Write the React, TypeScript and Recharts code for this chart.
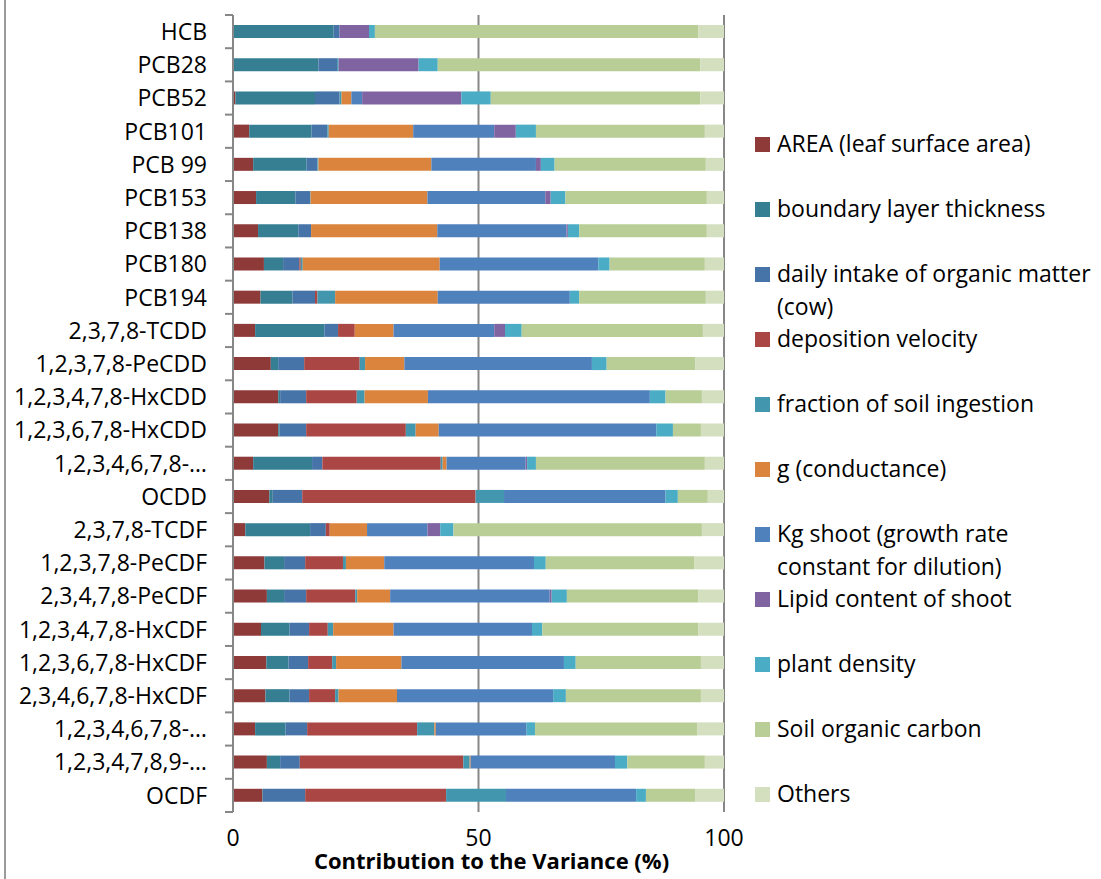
import React from 'react';
import { BarChart, Bar, XAxis, YAxis, CartesianGrid, Legend } from 'recharts';

const categories = [
  'HCB', 'PCB28', 'PCB52', 'PCB101', 'PCB 99', 'PCB153', 'PCB138', 'PCB180', 'PCB194',
  '2,3,7,8-TCDD', '1,2,3,7,8-PeCDD', '1,2,3,4,7,8-HxCDD', '1,2,3,6,7,8-HxCDD', '1,2,3,4,6,7,8-HpCDD',
  'OCDD', '2,3,7,8-TCDF', '1,2,3,7,8-PeCDF', '2,3,4,7,8-PeCDF', '1,2,3,4,7,8-HxCDF',
  '1,2,3,6,7,8-HxCDF', '2,3,4,6,7,8-HxCDF', '1,2,3,4,6,7,8-HpCDF', '1,2,3,4,7,8,9-HpCDF', 'OCDF',
];

const tickLabels = [
  'HCB', 'PCB28', 'PCB52', 'PCB101', 'PCB 99', 'PCB153', 'PCB138', 'PCB180', 'PCB194',
  '2,3,7,8-TCDD', '1,2,3,7,8-PeCDD', '1,2,3,4,7,8-HxCDD', '1,2,3,6,7,8-HxCDD', '1,2,3,4,6,7,8-…',
  'OCDD', '2,3,7,8-TCDF', '1,2,3,7,8-PeCDF', '2,3,4,7,8-PeCDF', '1,2,3,4,7,8-HxCDF',
  '1,2,3,6,7,8-HxCDF', '2,3,4,6,7,8-HxCDF', '1,2,3,4,6,7,8-…', '1,2,3,4,7,8,9-…', 'OCDF',
];

const xTicks = [0, 50, 100];

const areaLeaf = [0, 0, 0.5, 3.3, 4.1, 4.7, 5.1, 6.3, 5.6, 4.5, 7.7, 9.2, 9.2, 4.1, 7.4, 2.5, 6.4, 6.9, 5.7, 6.8, 6.6, 4.5, 6.9, 6.0];
const boundaryLayer = [20.5, 17.4, 16.2, 12.7, 10.9, 8.0, 8.2, 3.9, 6.5, 14.1, 1.5, 0.4, 0.3, 12.0, 0.7, 13.2, 4.0, 3.5, 5.8, 4.5, 4.9, 6.2, 2.7, 0.1];
const dailyIntake = [1.2, 3.8, 5.0, 3.2, 2.2, 3.0, 2.6, 3.3, 4.6, 2.8, 5.3, 5.3, 5.4, 2.1, 6.0, 3.2, 4.3, 4.5, 4.0, 4.0, 4.0, 4.4, 4.0, 8.6];
const depositionVelocity = [0, 0, 0, 0, 0, 0, 0, 0.3, 0.5, 3.4, 11.3, 10.3, 20.3, 24.1, 35.3, 0.8, 7.7, 10.0, 3.8, 4.9, 5.3, 22.4, 33.3, 28.7];
const soilIngestion = [0, 0.3, 0.4, 0.3, 0.2, 0.1, 0, 0.4, 3.6, 0, 1.1, 1.6, 2.0, 0.4, 5.8, 0, 0.6, 0.4, 1.1, 0.8, 0.7, 3.5, 1.3, 12.2];
const conductance = [0, 0, 2.0, 17.2, 23.0, 23.8, 25.7, 27.9, 20.9, 7.9, 8.0, 12.9, 4.7, 0.8, 0, 7.6, 7.8, 6.7, 12.3, 13.3, 11.9, 0.3, 0.2, 0];
const kgShoot = [0, 0, 2.2, 16.5, 21.3, 24.0, 26.3, 32.3, 26.9, 20.5, 38.2, 45.2, 44.3, 16.1, 32.9, 12.3, 30.5, 32.5, 28.2, 33.1, 31.8, 18.5, 29.4, 26.5];
const lipidContent = [6.0, 16.3, 20.2, 4.4, 1.0, 1.1, 0.3, 0, 0, 2.2, 0, 0, 0, 0.3, 0, 2.6, 0, 0.4, 0, 0, 0, 0, 0, 0];
const plantDensity = [1.2, 3.9, 6.0, 4.1, 2.8, 3.0, 2.3, 2.3, 1.9, 3.4, 3.0, 3.2, 3.4, 1.8, 2.5, 2.7, 2.4, 3.1, 2.1, 2.4, 2.6, 1.7, 2.5, 2.0];
const soilCarbon = [65.9, 53.5, 42.7, 34.4, 30.8, 28.8, 26.0, 19.4, 25.8, 36.9, 18.1, 7.4, 5.7, 34.4, 6.1, 50.6, 30.3, 26.8, 31.8, 25.5, 27.5, 33.1, 15.8, 10.0];
const others = [5.2, 4.8, 4.8, 3.9, 3.7, 3.5, 3.5, 3.9, 3.7, 4.3, 5.8, 4.5, 4.7, 3.9, 3.3, 4.5, 6.0, 5.2, 5.2, 4.7, 4.7, 5.4, 3.9, 5.9];

const seriesKeys = ['area', 'boundary', 'daily', 'deposition', 'fraction', 'g', 'kg', 'lipid', 'plant', 'soil', 'others'];
const seriesNames = [
  'AREA (leaf surface area)',
  'boundary layer thickness',
  'daily intake of organic matter\n(cow)',
  'deposition velocity',
  'fraction of soil ingestion',
  'g (conductance)',
  'Kg shoot (growth rate\nconstant for dilution)',
  'Lipid content of shoot',
  'plant density',
  'Soil organic carbon',
  'Others',
];
const seriesColors = ['#8E3A38', '#367F93', '#4674A8', '#AA4644', '#4297AF', '#DB843D', '#4F81BD', '#8064A2', '#4BACC6', '#B9CE96', '#D3DFBF'];
const seriesValues = [areaLeaf, boundaryLayer, dailyIntake, depositionVelocity, soilIngestion, conductance, kgShoot, lipidContent, plantDensity, soilCarbon, others];

const data = categories.map((name, i) => {
  const row: Record<string, string | number> = { name };
  seriesKeys.forEach((k, j) => {
    row[k] = seriesValues[j][i];
  });
  return row;
});

const FONT = '"Open Sans", Lato, sans-serif';
const AXIS_GRAY = '#878787';
const PLOT_LEFT = 233;
const PLOT_TOP = 15;
const PLOT_BOTTOM = 812;
const BAND = (PLOT_BOTTOM - PLOT_TOP) / categories.length;
const LEGEND_WIDTH = 346;

const YTick = (props: any) => {
  const { y, payload } = props;
  const idx = categories.indexOf(payload.value);
  return (
    <g>
      <line x1={PLOT_LEFT - 8} x2={PLOT_LEFT} y1={y - BAND / 2} y2={y - BAND / 2} stroke={AXIS_GRAY} strokeWidth={2} />
      {idx === categories.length - 1 && (
        <line x1={PLOT_LEFT - 8} x2={PLOT_LEFT} y1={y + BAND / 2} y2={y + BAND / 2} stroke={AXIS_GRAY} strokeWidth={2} />
      )}
      <text x={PLOT_LEFT - 26} y={y} dy="0.36em" textAnchor="end" fontSize={23} fontFamily={FONT} fill="#000">
        {tickLabels[idx]}
      </text>
    </g>
  );
};

const renderLegend = () => (
  <div style={{ position: 'relative', fontFamily: FONT, fontSize: 23, color: '#000' }}>
    {seriesNames.map((n, i) => (
      <div key={n} style={{ position: 'absolute', left: 0, top: i * 65, display: 'flex', alignItems: 'flex-start' }}>
        <span style={{ width: 15, height: 15, marginTop: 10, background: seriesColors[i], flex: 'none' }} />
        <span style={{ marginLeft: 7, lineHeight: '33px', whiteSpace: 'pre-line' }}>{n}</span>
      </div>
    ))}
  </div>
);

export default function App() {
  return (
    <div style={{ position: 'absolute', left: 0, top: 0, width: 1101, height: 879, background: '#fff', overflow: 'hidden' }}>
      <div style={{ position: 'absolute', left: 4, top: 0, width: 2, height: 879, background: '#9a9a9a' }} />
      <BarChart
        width={1101}
        height={879}
        data={data}
        layout="vertical"
        margin={{ top: PLOT_TOP, right: 377 - LEGEND_WIDTH, bottom: 0, left: 0 }}
        barSize={13}
      >
        <CartesianGrid horizontal={false} stroke={AXIS_GRAY} strokeWidth={2} />
        <XAxis
          type="number"
          domain={[0, 100]}
          ticks={xTicks}
          allowDataOverflow
          axisLine={false}
          tickLine={false}
          height={67}
          tickMargin={12}
          tick={{ fontSize: 23, fill: '#000', fontFamily: FONT }}
          label={{
            value: 'Contribution to the Variance (%)',
            position: 'insideBottom',
            offset: 10,
            dx: 13,
            style: { fontSize: 22, fontWeight: 700, fill: '#000', fontFamily: FONT },
          }}
        />
        <XAxis
          xAxisId="top"
          orientation="top"
          type="number"
          domain={[0, 100]}
          height={0}
          tick={false}
          tickLine={false}
          axisLine={{ stroke: AXIS_GRAY, strokeWidth: 2 }}
        />
        <YAxis
          type="category"
          dataKey="name"
          width={PLOT_LEFT}
          interval={0}
          axisLine={{ stroke: AXIS_GRAY, strokeWidth: 2 }}
          tickLine={false}
          tick={<YTick />}
        />
        {seriesKeys.map((k, j) => (
          <Bar key={k} dataKey={k} name={seriesNames[j]} stackId="a" fill={seriesColors[j]} isAnimationActive={false} />
        ))}
        <Legend
          layout="horizontal"
          verticalAlign="middle"
          align="right"
          content={renderLegend}
          wrapperStyle={{ left: 755, top: 127, width: LEGEND_WIDTH, height: 700 }}
        />
      </BarChart>
    </div>
  );
}
